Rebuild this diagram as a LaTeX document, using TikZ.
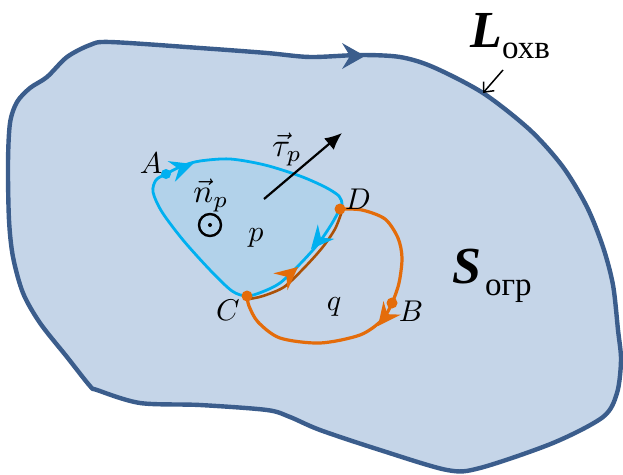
\documentclass[tikz,border=0pt]{standalone}
\usepackage{graphicx}
\usepackage{fontspec}
\newfontfamily\cyr{Liberation Serif}
\usetikzlibrary{arrows.meta}
\definecolor{outerfill}{HTML}{C5D5E8}
\definecolor{outerline}{HTML}{3B5D8C}
\definecolor{innerfill}{HTML}{B2D2EA}
\definecolor{bluel}{HTML}{00B0F0}
\definecolor{orangel}{HTML}{E46C0A}
\newcommand{\mlab}[1]{\scalebox{3.0}{$#1$}}
\newcommand{\vlab}[1]{\scalebox{3.3}{$#1$}}
% arrowhead: colour, tip coordinate, angle
\newcommand{\ahead}[3]{\fill[#1, shift={(#2)}, rotate=#3] (0,0) -- (-23,11) -- (-15,0) -- (-23,-11) -- cycle;}
\tikzset{
  lab/.style={inner sep=0pt},
  bigl/.style={inner sep=0pt, font=\cyr\bfseries\itshape\fontsize{52}{56}\selectfont},
  subl/.style={inner sep=0pt, font=\cyr\fontsize{33}{36}\selectfont},
  bluepath/.style={bluel, line width=2.8pt, line cap=round, line join=round},
  orangepath/.style={orangel, line width=3.2pt, line cap=round, line join=round},
  dotb/.style={circle, fill=bluel, inner sep=0pt, minimum size=10pt},
  doto/.style={circle, fill=orangel, inner sep=0pt, minimum size=11pt},
}
\begin{document}
\begin{tikzpicture}[x=1pt,y=-1pt]
\useasboundingbox (0,0) rectangle (623,474);
% outer region
\draw[outerline, line width=4.4pt, fill=outerfill, line join=round]
  plot[smooth cycle, tension=0.5] coordinates {
  (110,42) (200,48) (267,53) (310,57) (360,55) (400,57) (433,67) (483,93)
  (530,130) (563,167) (587,207) (603,247) (613,285) (618,330) (621,360)
  (617,393) (603,417) (553,443) (480,468) (447,470) (380,450) (320,430)
  (290,417) (267,410) (200,405) (140,403) (97,390) (90,386) (67,357)
  (40,323) (23,293) (13,257) (9,220) (8,163) (10,123) (17,102) (30,88)
  (47,77) (67,57) (90,45)};
\coordinate (topb) at (365,56);
\fill[outerline, shift={(topb)}] (0,0) -- (-23,13) -- (-15,0) -- (-23,-13) -- cycle;
% points
\coordinate (A) at (166,174);
\coordinate (B) at (392,303);
\coordinate (C) at (247,296);
\coordinate (D) at (340,209);
% inner fill p
\fill[innerfill] plot[smooth cycle, tension=0.5] coordinates {
  (166,174) (182,166) (200,161) (230,159) (265,165) (300,176) (325,187)
  (339,196) (342,204) (340,209) (331,225) (318,244) (300,264) (280,283)
  (262,292) (247,296) (232,291) (210,270) (183,240) (162,212) (153,192) (156,180)};
% orange contour q
\draw[orangepath] plot[smooth, tension=0.5] coordinates {
  (340,209) (362,210) (385,219) (398,238) (402,258) (399,283) (392,303)
  (382,320) (360,335) (320,343) (280,338) (258,322) (249,306) (247,296)};
\draw[orangel!75!black, line width=2.6pt, line cap=round] plot[smooth, tension=0.5] coordinates {
  (249,299) (263,296) (284,287) (304,268) (322,248) (335,229) (342,211)};
% blue contour p
\draw[bluepath] plot[smooth cycle, tension=0.5] coordinates {
  (166,174) (182,166) (200,161) (230,159) (265,165) (300,176) (325,187)
  (339,196) (342,204) (340,209) (331,225) (318,244) (300,264) (280,283)
  (262,292) (247,296) (232,291) (210,270) (183,240) (162,212) (153,192) (156,180)};
% arrowheads on contours
\coordinate (ba) at (193,164);
\coordinate (bb) at (311,249);
\coordinate (oa) at (298,267);
\coordinate (ob) at (378,326);
\ahead{bluel}{ba}{19}
\ahead{bluel}{bb}{-131}
\ahead{orangel}{oa}{40}
\ahead{orangel}{ob}{-128}
% dots
\node[dotb] (dA) at (A) {};
\node[doto] (dB) at (B) {};
\node[doto] (dC) at (C) {};
\node[doto] (dD) at (D) {};
% tangent vector
\coordinate (t1) at (264,199);
\coordinate (t2) at (342,133);
\draw[line width=2.2pt, -{Latex[length=17pt,width=15pt]}] (t1) -- (t2);
% normal (out of page)
\node[circle, draw, line width=2.4pt, minimum size=22pt, inner sep=0pt] (odot) at (210,225) {};
\fill (odot.center) circle (2);
% labels
\node[lab] (lA) at (151,163) {\mlab{A}};
\node[lab] (lB) at (411,311) {\mlab{B}};
\node[lab] (lC) at (228,310) {\mlab{C}};
\node[lab] (lD) at (358,199) {\mlab{D}};
\node[lab] (lp) at (256,238) {\mlab{p}};
\node[lab] (lq) at (334,307) {\mlab{q}};
\node[lab] (ln) at (211,195) {\vlab{\vec{n}_p}};
\node[lab] (lt) at (287,149) {\vlab{\vec{\tau}_p}};
\node[bigl, anchor=base west] (lL) at (470,47) {L};
\node[subl, anchor=base west] (lLs) at (502,58) {охв};
\node[bigl, anchor=base west] (lS) at (452,283) {S};
\node[subl, anchor=base west] (lSs) at (485,295) {огр};
% pointer to outer contour
\coordinate (pp1) at (503,70);
\coordinate (pp2) at (483,93);
\draw[line width=1.5pt, -{Straight Barb[length=8pt,width=14pt]}] (pp1) -- (pp2);
\end{tikzpicture}
\end{document}
